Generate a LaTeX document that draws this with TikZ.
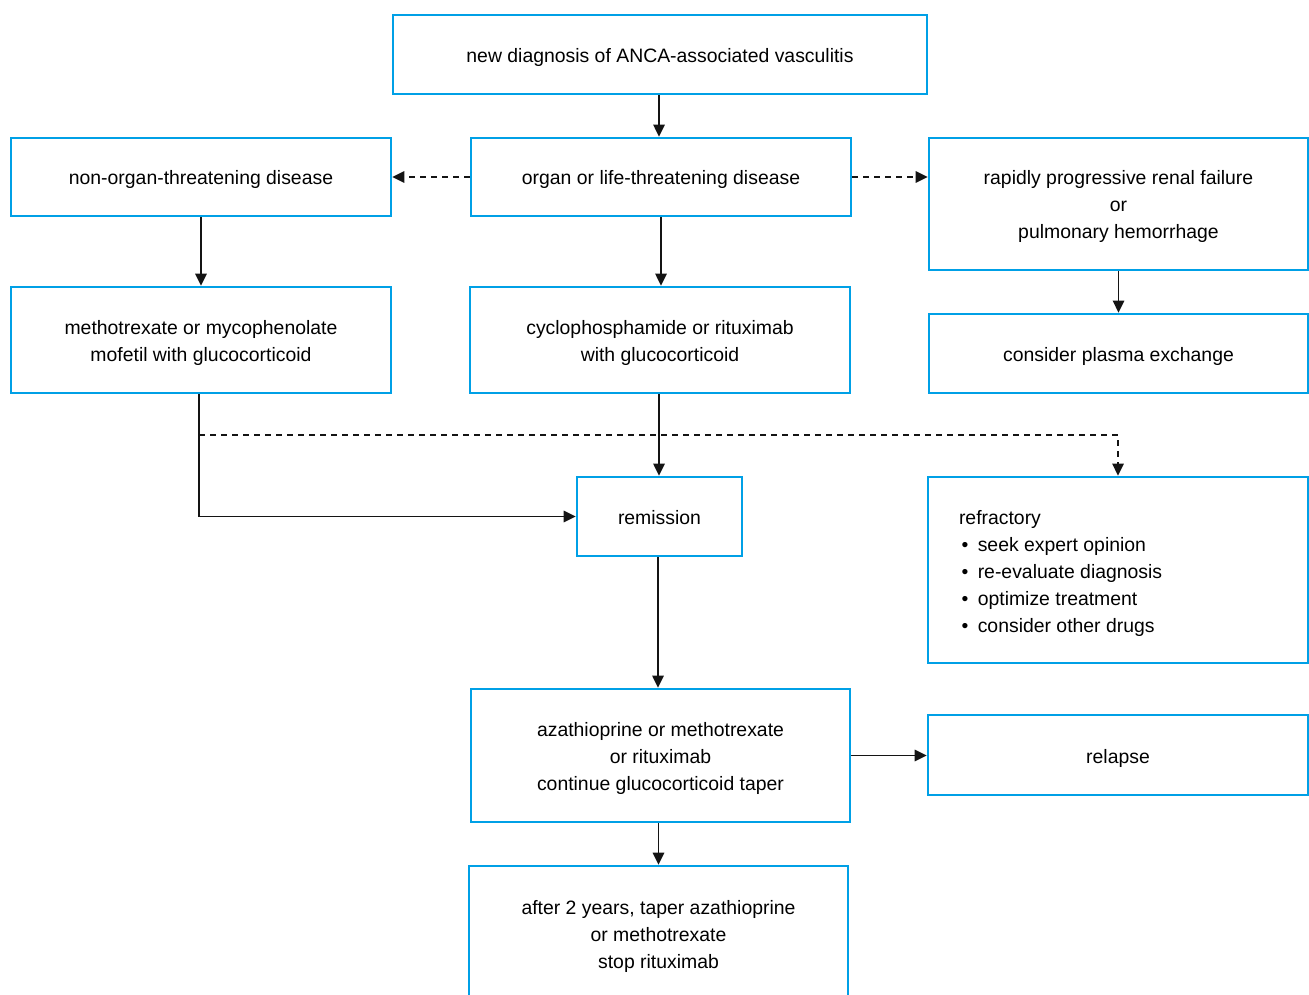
\documentclass[tikz,border=0pt]{standalone}
\usepackage{fontspec}
\setmainfont{Liberation Sans}
\usetikzlibrary{arrows.meta,calc}
\definecolor{boxblue}{RGB}{0,160,230}
\definecolor{linegray}{RGB}{20,20,20}
\begin{document}
\begin{tikzpicture}[x=1pt,y=-1pt,
  box/.style={draw=boxblue, line width=2.8pt, inner sep=0pt, align=flush center,
    text width=360pt,
    font=\fontsize{19.4}{27}\selectfont,
    execute at begin node={\rule[-5pt]{0pt}{26pt}},
    execute at end node={\rule[-5pt]{0pt}{5pt}}},
  conn/.style={draw=linegray, line width=1.5pt, -{Triangle[length=12pt,width=11.5pt]}},
  dconn/.style={conn, dash pattern=on 6pt off 5pt}]
\clip (0,0) rectangle (1309,995);
\fill[white] (0,0) rectangle (1309,995);

\node[box, text width=500pt, minimum width=534pt, minimum height=79pt] (top) at (660,54.5) {new diagnosis of ANCA-associated vasculitis};
\node[box, minimum width=380pt, minimum height=78pt] (nonorg) at (201,177) {non-organ-threatening disease};
\node[box, minimum width=380pt, minimum height=78pt] (organ) at (661,177) {organ or life-threatening disease};
\node[box, minimum width=379pt, minimum height=132pt] (rapid) at (1118.5,204) {rapidly progressive renal failure\\or\\pulmonary hemorrhage};
\node[box, minimum width=380pt, minimum height=106pt] (meth) at (201,340) {methotrexate or mycophenolate\\mofetil with glucocorticoid};
\node[box, minimum width=380pt, minimum height=106pt] (cyclo) at (660,340) {cyclophosphamide or rituximab\\with glucocorticoid};
\node[box, minimum width=379pt, minimum height=79pt] (plasma) at (1118.5,353.5) {consider plasma exchange};
\node[box, text width=150pt, minimum width=165pt, minimum height=79pt] (rem) at (659.5,516.5) {remission};
\node[box, minimum width=380pt, minimum height=186pt, text width=318pt, align=flush left] (refr) at (1118,570) {refractory\\
\hspace*{2.5pt}\textbullet\hspace{9.5pt}seek expert opinion\\
\hspace*{2.5pt}\textbullet\hspace{9.5pt}re-evaluate diagnosis\\
\hspace*{2.5pt}\textbullet\hspace{9.5pt}optimize treatment\\
\hspace*{2.5pt}\textbullet\hspace{9.5pt}consider other drugs};
\node[box, minimum width=379pt, minimum height=133pt] (aza) at (660.5,755.5) {azathioprine or methotrexate\\or rituximab\\continue glucocorticoid taper};
\node[box, minimum width=380pt, minimum height=80pt] (relapse) at (1118,755) {relapse};
\node[box, minimum width=379pt, minimum height=134pt] (after) at (658.5,933) {after 2 years, taper azathioprine\\or methotrexate\\stop rituximab};

\coordinate (mdown) at ($(meth.south)+(-2,0)$);
\coordinate (d0) at (199,435);

\draw[conn] ($(top.south)+(-1,0)$) -- ($(top.south |- organ.north)+(-1,0)$);
\draw[dconn] (organ.west) -- (nonorg.east);
\draw[dconn] (organ.east) -- (organ.east -| rapid.west);
\draw[conn] (nonorg.south) -- (meth.north);
\draw[conn] (organ.south) -- (organ.south |- cyclo.north);
\draw[conn] (rapid.south) -- (plasma.north);
\draw[conn] ($(cyclo.south)+(-1,0)$) -- ($(cyclo.south |- rem.north)+(-1,0)$);
\draw[conn] (mdown) |- (rem.west);
\draw[dconn] (d0) -| (refr.north);
\draw[conn] ($(rem.south)+(-1.5,0)$) -- ($(rem.south |- aza.north)+(-1.5,0)$);
\draw[conn] (aza.east) -- (aza.east -| relapse.west);
\draw[conn] ($(aza.south)+(-2,0)$) -- ($(aza.south |- after.north)+(-2,0)$);
\end{tikzpicture}
\end{document}
